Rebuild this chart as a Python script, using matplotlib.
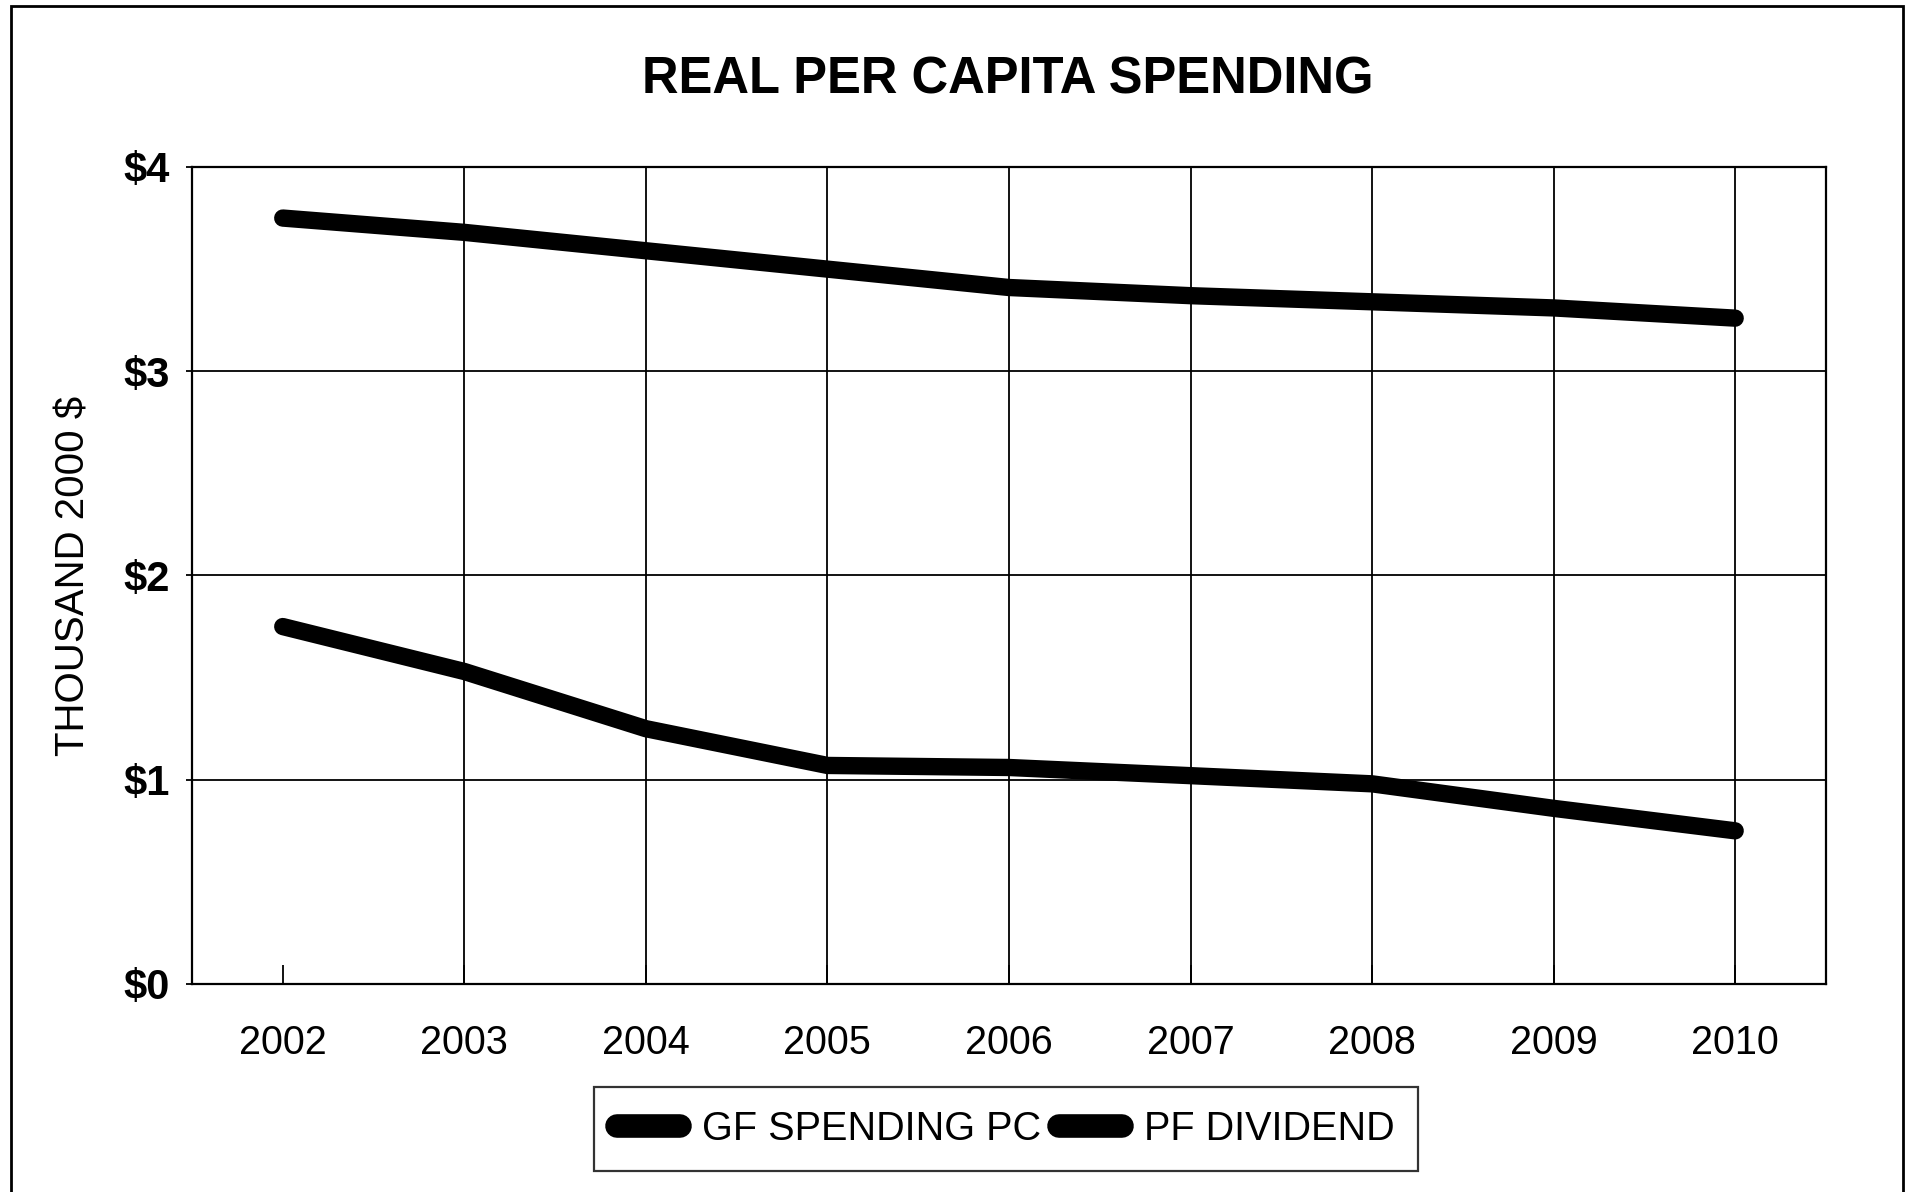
import matplotlib.pyplot as plt
from matplotlib.patches import Rectangle

plt.rcParams['font.family'] = ['Liberation Sans', 'DejaVu Sans']

years = [2002, 2003, 2004, 2005, 2006, 2007, 2008, 2009, 2010]
gf_spending = [3.75, 3.68, 3.59, 3.50, 3.41, 3.37, 3.34, 3.31, 3.26]
pf_dividend = [1.75, 1.53, 1.25, 1.07, 1.06, 1.02, 0.98, 0.86, 0.75]
y_ticks = [0, 1, 2, 3, 4]
y_labels = ['$0', '$1', '$2', '$3', '$4']

fig = plt.figure(figsize=(19.16, 11.92), dpi=100)
fig.patch.set_facecolor('white')

# outer frame round the whole chart
fig.patches.append(Rectangle((0.006, -0.01), 0.987, 1.005, transform=fig.transFigure,
                             fill=False, edgecolor='black', linewidth=2.0))

ax = fig.add_axes([0.1002, 0.1745, 0.8528, 0.6854])

ax.plot(years, gf_spending, color='black', linewidth=12.5, solid_capstyle='round',
        solid_joinstyle='round', label='GF SPENDING PC', zorder=3)
ax.plot(years, pf_dividend, color='black', linewidth=12.5, solid_capstyle='round',
        solid_joinstyle='round', label='PF DIVIDEND', zorder=3)

ax.set_xlim(years[0] - 0.5, years[-1] + 0.5)
ax.set_ylim(0, 4)

# horizontal grid at each dollar, vertical grid from 2003 on
for y in y_ticks[1:]:
    ax.axhline(y, color='black', linewidth=1.3, zorder=1)
ax.vlines(years[1:], 0, 4, color='black', linewidth=1.3, zorder=1)

ax.set_xticks(years)
ax.set_xticklabels([str(y) for y in years], fontsize=28.5)
ax.tick_params(axis='x', direction='in', length=14, width=1.3, pad=29)
ax.set_yticks(y_ticks)
ax.set_yticklabels(y_labels, fontsize=30, fontweight='bold')
ax.tick_params(axis='y', direction='out', length=4, width=1.3, pad=12)

for s in ax.spines.values():
    s.set_linewidth(1.6)
    s.set_color('black')

ax.set_ylabel('THOUSAND 2000 $', fontsize=29, labelpad=22)

fig.text(0.526, 0.933, 'REAL PER CAPITA SPENDING', ha='center', va='center',
         fontsize=36.5, fontweight='bold')

leg = fig.legend(loc='center', bbox_to_anchor=(0.525, 0.053), ncol=2, fontsize=28.5,
                 frameon=True, fancybox=False, edgecolor='black', handlelength=1.6,
                 handletextpad=0.55, columnspacing=0.45, borderpad=0.58)
leg.get_frame().set_linewidth(1.6)
for h in leg.legend_handles:
    h.set_linewidth(17)

fig.savefig('out.png', dpi=100, facecolor='white')
